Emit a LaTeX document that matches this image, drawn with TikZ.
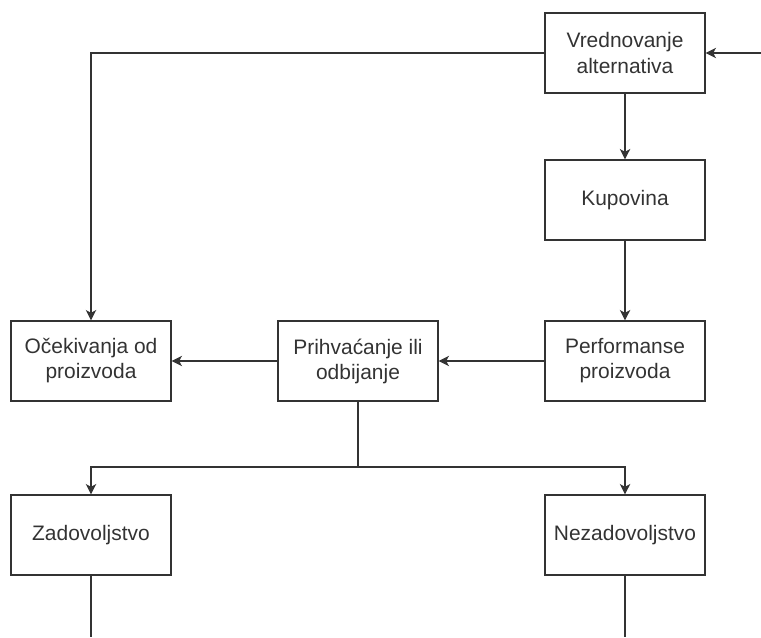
\documentclass[tikz,border=0pt]{standalone}
\usepackage{fontspec}
\setmainfont{Liberation Sans}
\usepackage{tikz}
\usetikzlibrary{arrows.meta}
\tikzset{>={Stealth[length=2.6mm,width=2.6mm,inset=0.7mm]}}
\definecolor{line grey}{HTML}{333333}
\tikzset{
    stagebox/.style={draw=line grey, line width=0.8pt, minimum width=4cm, minimum height=2cm,
        align=center, text=black!80, font=\fontsize{14.9}{17.8}\selectfont, inner sep=0pt},
    link/.style={draw=line grey, line width=0.8pt}
}

\begin{document}
\begin{tikzpicture}[x=0.025cm, y=-0.025cm]
            \useasboundingbox (0, 0) rectangle (761, 637);
            \node[stagebox] (vred) at (625, 53) {Vrednovanje\\alternativa};
            \node[stagebox] (kup) at (625, 200) {Kupovina};
            \node[stagebox] (perf) at (625, 361) {Performanse\\proizvoda};
            \node[stagebox] (prih) at (358, 361) {Prihva\'canje ili\\odbijanje};
            \node[stagebox] (ocek) at (91, 361) {O\v{c}ekivanja od\\proizvoda};
            \node[stagebox] (zad) at (91, 535) {Zadovoljstvo};
            \node[stagebox] (nezad) at (625, 535) {Nezadovoljstvo};
            \coordinate (ulaz) at (761, 53);
            \coordinate (grana) at (358, 467);
            \coordinate (zadkraj) at (91, 637);
            \coordinate (nezadkraj) at (625, 637);
            \draw[link, ->] (ulaz) -- (vred.east);
            \draw[link, ->] (vred.west) -| (ocek.north);
            \draw[link, ->] (vred) -- (kup);
            \draw[link, ->] (kup) -- (perf);
            \draw[link, ->] (perf) -- (prih);
            \draw[link, ->] (prih) -- (ocek);
            \draw[link] (prih.south) -- (grana);
            \draw[link, ->] (grana) -| (zad.north);
            \draw[link, ->] (grana) -| (nezad.north);
            \draw[link] (zad) -- (zadkraj);
            \draw[link] (nezad) -- (nezadkraj);
        \end{tikzpicture}
\end{document}
